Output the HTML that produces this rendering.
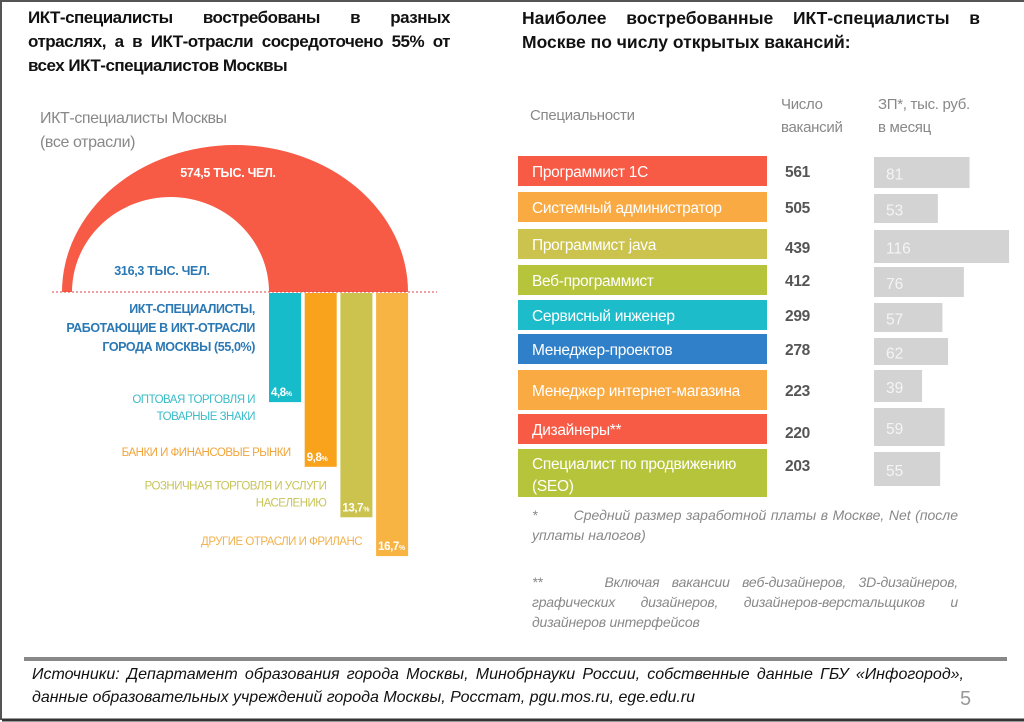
<!DOCTYPE html>
<html><head><meta charset="utf-8">
<style>
*{margin:0;padding:0;box-sizing:border-box}
body{width:1024px;height:720px;background:#fff;position:relative;overflow:hidden;font-family:"Liberation Sans","Noto Sans CJK SC",sans-serif;border-left:2px solid #555;border-top:2px solid #555}
.abs{position:absolute}
.title{font-weight:bold;font-size:17px;line-height:24px;color:#111;text-align:justify;text-align-last:left;letter-spacing:-0.5px}
.foot{font-style:italic;color:#111;font-size:16px;line-height:23px}
.note{font-style:italic;color:#888;font-size:14px;line-height:20px;text-align:justify}
</style></head>
<body>
<div class="abs title" style="left:26px;top:4px;width:422px">ИКТ-специалисты востребованы в разных отраслях, а в ИКТ-отрасли сосредоточено 55% от всех ИКТ-специалистов Москвы</div>
<div class="abs title" style="left:520px;top:4px;width:458px;letter-spacing:0;font-size:17.5px">Наиболее востребованные ИКТ-специалисты в Москве по числу открытых вакансий:</div>

<svg class="abs" style="left:0;top:0" width="1024" height="720" id="chart">
<text x="38" y="121" font-size="16" fill="#888" letter-spacing="-0.4">ИКТ-специалисты Москвы</text>
<text x="38" y="145" font-size="16" fill="#888" letter-spacing="-0.4">(все отрасли)</text>
<path d="M60 290 A173 147 0 0 1 406 290 L267 290 A98.5 95 0 0 0 70 290 Z" fill="#f75a45"/>
<text x="226" y="175" font-size="12.5" fill="#fff" font-weight="bold" letter-spacing="-0.3" text-anchor="middle">574,5 ТЫС. ЧЕЛ.</text>
<text x="160" y="273" font-size="12.5" fill="#2a78b4" font-weight="bold" letter-spacing="-0.3" text-anchor="middle">316,3 ТЫС. ЧЕЛ.</text>
<line x1="50" y1="290" x2="435" y2="290" stroke="#d44" stroke-width="1" stroke-dasharray="2,2"/>
<g font-weight="bold" font-size="12.5" letter-spacing="-0.4" fill="#2a78b4" text-anchor="end">
<text x="253" y="311">ИКТ-СПЕЦИАЛИСТЫ,</text><text x="253" y="330">РАБОТАЮЩИЕ В ИКТ-ОТРАСЛИ</text><text x="253" y="349">ГОРОДА МОСКВЫ (55,0%)</text></g>
<g id="sectorBars"></g>
<text x="528" y="118" font-size="15" fill="#888" letter-spacing="-0.3">Специальности</text>
<text x="779" y="107" font-size="15" fill="#888" letter-spacing="-0.3">Число</text>
<text x="779" y="130" font-size="15" fill="#888" letter-spacing="-0.3">вакансий</text>
<text x="876" y="107" font-size="15" fill="#888" letter-spacing="-0.3">ЗП*, тыс. руб.</text>
<text x="876" y="130" font-size="15" fill="#888" letter-spacing="-0.3">в месяц</text>
<g id="jobRows"></g>
<line x1="22" y1="657" x2="1005" y2="657" stroke="#888" stroke-width="4"/>
<line x1="0" y1="718" x2="1024" y2="718" stroke="#333" stroke-width="3"/>
<text x="958" y="703" font-size="20" fill="#999">5</text>
</svg>

<div class="abs note" style="left:530px;top:503px;width:426px">*&nbsp;&nbsp;&nbsp;&nbsp;&nbsp;&nbsp;&nbsp; Средний размер заработной платы в Москве, Net (после уплаты налогов)</div>
<div class="abs note" style="left:530px;top:570px;width:426px;letter-spacing:-0.2px">**&nbsp;&nbsp;&nbsp;&nbsp; Включая вакансии веб-дизайнеров, 3D-дизайнеров, графических дизайнеров, дизайнеров-верстальщиков и дизайнеров интерфейсов</div>
<div class="abs foot" style="left:30px;top:661px;width:932px;text-align:justify;text-align-last:left">Источники: Департамент образования города Москвы, Минобрнауки России, собственные данные ГБУ «Инфогород», данные образовательных учреждений города Москвы, Росстат, pgu.mos.ru, ege.edu.ru</div>

<script>
const sectors=["ОПТОВАЯ ТОРГОВЛЯ И|ТОВАРНЫЕ ЗНАКИ","БАНКИ И ФИНАНСОВЫЕ РЫНКИ","РОЗНИЧНАЯ ТОРГОВЛЯ И УСЛУГИ|НАСЕЛЕНИЮ","ДРУГИЕ ОТРАСЛИ И ФРИЛАНС"];
const sectorShares=[4.8,9.8,13.7,16.7];
const sectorLabels=["4,8","9,8","13,7","16,7"];
const jobs=["Программист 1С","Системный администратор","Программист java","Веб-программист","Сервисный инженер","Менеджер-проектов","Менеджер интернет-магазина","Дизайнеры**","Специалист по продвижению|(SEO)"];
const vacancies=[561,505,439,412,299,278,223,220,203];
const salaries=[81,53,116,76,57,62,39,59,55];

const NS="http://www.w3.org/2000/svg";
function mk(tag,attrs,parent){const e=document.createElementNS(NS,tag);for(const k in attrs)e.setAttribute(k,attrs[k]);parent.appendChild(e);return e;}
const sectorColors=["#17bccb","#f9a21b","#cbc34e","#f8b443"];
const textColors=["#3bbcc8","#f0a53a","#c8c45a","#f2b24e"];
const base=291;
function hScale(v){return 47+12.94*v;}
const sg=document.getElementById('sectorBars');
sectorShares.forEach((v,i)=>{
  const x=267+i*35.7, h=hScale(v);
  const r=mk('rect',{x:x,y:base,width:32,height:h,fill:sectorColors[i]},sg);
  
  
  const t=mk('text',{x:x+2,y:base+h-6,'font-size':11.5,'font-weight':'bold',fill:'#fff','letter-spacing':-0.4},sg);
  t.textContent=sectorLabels[i];
  const s=mk('tspan',{'font-size':7},t);s.textContent='%';
  
  
  const lines=sectors[i].split('|');
  const ty=base+h-11-(lines.length-1)*17;
  lines.forEach((ln,j)=>{
    const lt=mk('text',{x:x-14,y:(i==0?base+h+1:ty)+j*17,'font-size':11.5,fill:textColors[i],'text-anchor':'end','letter-spacing':-0.5},sg);
    lt.textContent=ln;
    
    
  });
});
const rowColors=["#f75a45","#f9aa43","#cbc34e","#b5c43a","#1cbccb","#2f80c8","#f9aa43","#f75a45","#b5c43a"];
const rowTop=[154,190,227,263,298,332,368,412,447];
const rowH=[30,30,30,30,30,30,40,30,48];
const salTop=[155,192,228,265,301,336,368,406,450];
const salH=[31,29,33,30,29,27,32,38,34];
function salW(v){return 4+1.13*v;}
const jg=document.getElementById('jobRows');
jobs.forEach((j,i)=>{
  const y=rowTop[i],h=rowH[i];
  const r=mk('rect',{x:516,y:y,width:249,height:h,fill:rowColors[i]},jg);
  
  
  const lines=j.split('|');
  lines.forEach((ln,k)=>{
    const t=mk('text',{x:530,y:(lines.length>1?y+20+k*22:y+h/2+6),'font-size':15.5,fill:'#fff','letter-spacing':-0.3},jg);
    t.textContent=ln;
    
    
  });
  const vt=mk('text',{x:783,y:(i==8?y+22:y+h/2+6)+(i==2?3:0)+(i==7?3:0),'font-size':15.5,'font-weight':'bold',fill:'#555','letter-spacing':-0.3},jg);
  vt.textContent=vacancies[i];
  
  
  const sy=salTop[i],sh=salH[i];
  const b=mk('rect',{x:872,y:sy,width:salW(salaries[i]),height:sh,fill:'#d3d3d3'},jg);
  
  
  const st=mk('text',{x:884,y:sy+sh/2+7,'font-size':15.5,fill:'#f4f4f4'},jg);
  st.textContent=salaries[i];
  
  
});
</script>
</body></html>
